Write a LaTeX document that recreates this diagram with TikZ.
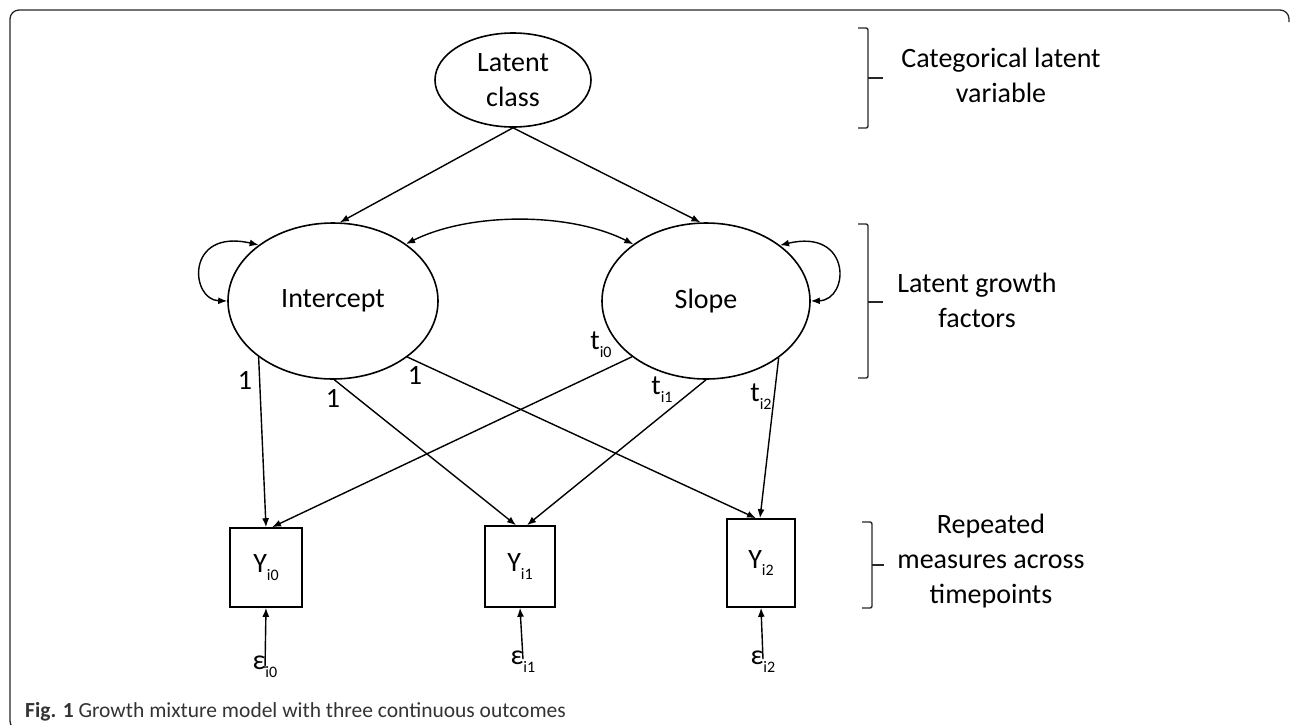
\documentclass[tikz,border=0pt]{standalone}
\usepackage{fontspec}
\setmainfont{Carlito}
\usetikzlibrary{arrows.meta,shapes.geometric}
\newcommand\lsub[1]{\raisebox{-0.28em}{\fontsize{16}{16}\selectfont #1}}
\begin{document}
\begin{tikzpicture}[x=1pt,y=-1pt,
  lat/.style={draw,ellipse,line width=1.6pt,inner sep=0pt},
  obs/.style={draw,rectangle,line width=1.6pt,inner sep=0pt},
  txt/.style={font=\fontsize{28}{35}\selectfont,inner sep=0pt,align=center},
  lbl/.style={font=\fontsize{28}{30}\selectfont,inner sep=0pt},
  arr/.style={line width=1.4pt,-{Latex[length=9pt,width=7pt]}},
  darr/.style={line width=1.4pt,{Latex[length=9pt,width=7pt]}-{Latex[length=9pt,width=7pt]}},
  brk/.style={line width=1.4pt,rounded corners=2pt,draw=black!85}]
\useasboundingbox (0,0) rectangle (1290,724);
\clip (0,0) rectangle (1290,724);
% frame
\draw[line width=1.3pt,rounded corners=9pt,draw=black!85] (1289,22) |- (10,10) |- (60,730);
% nodes
\node[lat,minimum width=156pt,minimum height=94pt,txt] (LC) at (513,80) {Latent\\class};
\node[lat,minimum width=210pt,minimum height=156pt,txt] (I) at (333,301) {Intercept};
\node[lat,minimum width=208pt,minimum height=156pt,txt] (S) at (706,301) {Slope};
\node[obs,minimum width=72pt,minimum height=79pt,lbl] (Y0) at (266,567.5) {Y\lsub{i0}};
\node[obs,minimum width=70pt,minimum height=81pt,lbl] (Y1) at (520,566.5) {Y\lsub{i1}};
\node[obs,minimum width=68pt,minimum height=88pt,lbl] (Y2) at (761,563) {Y\lsub{i2}};
\node[lbl] (e0) at (265,667) {ε\lsub{i0}};
\node[lbl] (e1) at (523,662) {ε\lsub{i1}};
\node[lbl] (e2) at (763,662) {ε\lsub{i2}};
% paths from latent class
\draw[arr] (LC.south) -- (I.85);
\draw[arr] (LC.south) -- (S.94);
% covariance and variances
\draw[darr] (I.38) .. controls (470,212) and (570,212) .. (S.142);
\draw[darr] (I.180) .. controls (190,300) and (185,228) .. (I.143);
\draw[darr] (S.0) .. controls (850,300) and (852,228) .. (S.37);
% loadings
\draw[arr] (I.217) -- (Y0.north);
\draw[arr] (I.271) -- ([xshift=-4pt]Y1.north);
\draw[arr] (I.323) -- ([xshift=-5pt]Y2.north);
\draw[arr] (S.217) -- ([xshift=6pt]Y0.north);
\draw[arr] (S.270) -- ([xshift=7pt]Y1.north);
\draw[arr] (S.322) -- ([xshift=-1pt]Y2.north);
% errors
\draw[arr] ([yshift=-12pt]e0.north) -- (Y0.south);
\draw[arr] ([yshift=-8pt]e1.north) -- (Y1.south);
\draw[arr] ([yshift=-8pt]e2.north) -- (Y2.south);
% loading labels
\node[lbl] (l0) at (245,380) {1};
\node[lbl] (l1) at (333,398) {1};
\node[lbl] (l2) at (415,375) {1};
\node[lbl] (t0) at (601,345) {t\lsub{i0}};
\node[lbl] (t1) at (662,390) {t\lsub{i1}};
\node[lbl] (t2) at (761,397) {t\lsub{i2}};
% brackets
\draw[brk] (858,28) -- (868,28) -- (868,128) -- (858,128);
\draw[line width=1.4pt,draw=black!85] (868,78) -- (883,78);
\draw[brk] (858,224) -- (868,224) -- (868,378) -- (858,378);
\draw[line width=1.4pt,draw=black!85] (868,302) -- (883,302);
\draw[brk] (862,522) -- (872,522) -- (872,608) -- (862,608);
\draw[line width=1.4pt,draw=black!85] (872,565) -- (884,565);
\node[txt] (b1) at (1001,75.5) {Categorical latent\\variable};
\node[txt] (b2) at (977,300) {Latent growth\\factors};
\node[txt] (b3) at (991,561) {Repeated\\measures across\\timepoints};
% caption
\node[anchor=west,inner sep=0pt,font=\fontsize{21.5}{24}\selectfont,text=black!80] (cap) at (25,712) {\textbf{Fig. 1} Growth mixture model with three continuous outcomes};
\end{tikzpicture}
\end{document}
